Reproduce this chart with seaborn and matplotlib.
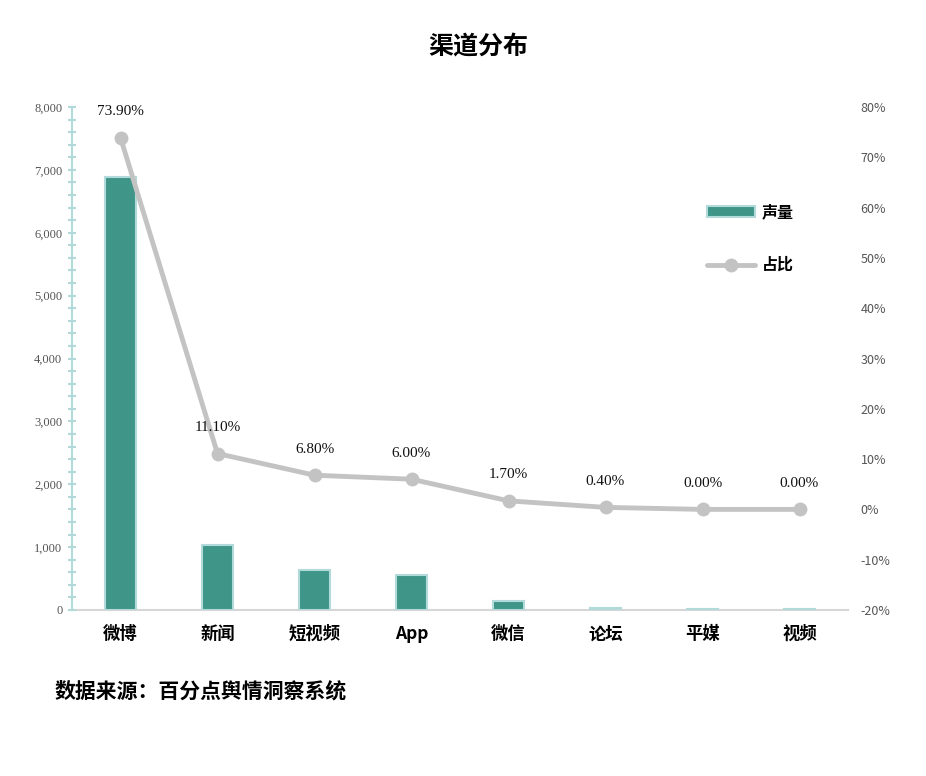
import numpy as np
import pandas as pd
import matplotlib
matplotlib.use("Agg")
import matplotlib.pyplot as plt
import seaborn as sns
from matplotlib.ticker import MultipleLocator, FuncFormatter
from matplotlib.lines import Line2D
from matplotlib.patches import Patch

# data
channels = ['微博', '新闻', '短视频', 'App', '微信', '论坛', '平媒', '视频']
volume = [6880, 1030, 630, 560, 150, 30, 8, 8]
share = [73.9, 11.1, 6.8, 6.0, 1.7, 0.4, 0.0, 0.0]

bar_color = '#3f9688'
bar_edge = '#b3dada'
line_color = '#c3c3c3'
cjk = ['Noto Sans CJK SC', 'DejaVu Sans']

sns.set_style('white')
plt.rcParams['font.family'] = cjk

df = pd.DataFrame({'channel': channels, 'volume': volume, 'share': share})

fig = plt.figure(figsize=(9.26, 7.76), dpi=100)
ax = fig.add_axes([72 / 926, 1 - 610 / 776, 776 / 926, 503 / 776])

sns.barplot(data=df, x='channel', y='volume', color=bar_color, width=0.31,
            saturation=1, edgecolor=bar_edge, linewidth=1.5, ax=ax)
ax.set_xlim(-0.5, len(channels) - 0.5)
ax.set_ylim(0, 8000)
ax.yaxis.set_major_locator(MultipleLocator(1000))
ax.yaxis.set_minor_locator(MultipleLocator(200))
ax.yaxis.set_major_formatter(FuncFormatter(lambda v, p: f'{int(v):,}'))
ax.tick_params(axis='y', which='both', direction='inout', length=6, width=1.5,
               color='#b3dada', labelsize=9, labelcolor='#555555', pad=4)
for lab in ax.get_yticklabels():
    lab.set_fontfamily('Liberation Serif')
ax.tick_params(axis='x', length=0, labelsize=12.5, labelcolor='#000000', pad=11)
for lab in ax.get_xticklabels():
    lab.set_fontweight('bold')
ax.set_xlabel('')
ax.set_ylabel('')
for s in ['top', 'right']:
    ax.spines[s].set_visible(False)
ax.spines['left'].set_color('#b3dada')
ax.spines['left'].set_linewidth(1.5)
ax.spines['bottom'].set_color('#d6d6d6')
ax.spines['bottom'].set_linewidth(1.5)
ax.spines['bottom'].set_zorder(0.5)

ax2 = ax.twinx()
sns.lineplot(x=np.arange(len(channels)), y=share, color=line_color, linewidth=3.5,
             marker='o', markersize=10, markeredgewidth=0, ax=ax2)
ax2.set_ylim(-20, 80)
ax2.yaxis.set_major_locator(MultipleLocator(10))
ax2.yaxis.set_major_formatter(FuncFormatter(lambda v, p: f'{int(round(v))}%'))
ax2.tick_params(axis='y', length=0, labelsize=9, labelcolor='#555555', pad=9)
for s in ['top', 'right', 'left', 'bottom']:
    ax2.spines[s].set_visible(False)
for i, v in enumerate(share):
    ax2.annotate(f'{v:.2f}%', (i, v), xytext=(0, 14), textcoords='offset points',
                 ha='center', va='bottom', fontsize=11, family='Liberation Serif',
                 color='#111111')

handles = [Patch(facecolor=bar_color, edgecolor=bar_edge, linewidth=1.5),
           Line2D([0], [0], color=line_color, linewidth=3.5, marker='o', markersize=10,
                  markeredgewidth=0)]
leg = ax2.legend(handles, ['声量', '占比'], loc='upper left',
                 bbox_to_anchor=(0.8, 0.835), frameon=False, labelspacing=2.3,
                 handlelength=3.0, handletextpad=0.4,
                 prop={'size': 11.5, 'weight': 'bold', 'family': cjk})
for t in leg.get_texts():
    t.set_color('#000000')

fig.text(0.516, 0.939, '渠道分布', ha='center', va='center', fontsize=18,
         fontweight='bold', color='#000000')
fig.text(55 / 926, 1 - 691 / 776, '数据来源：百分点舆情洞察系统', ha='left', va='center',
         fontsize=15, fontweight='bold', color='#000000')

fig.savefig('out.png', dpi=100)
